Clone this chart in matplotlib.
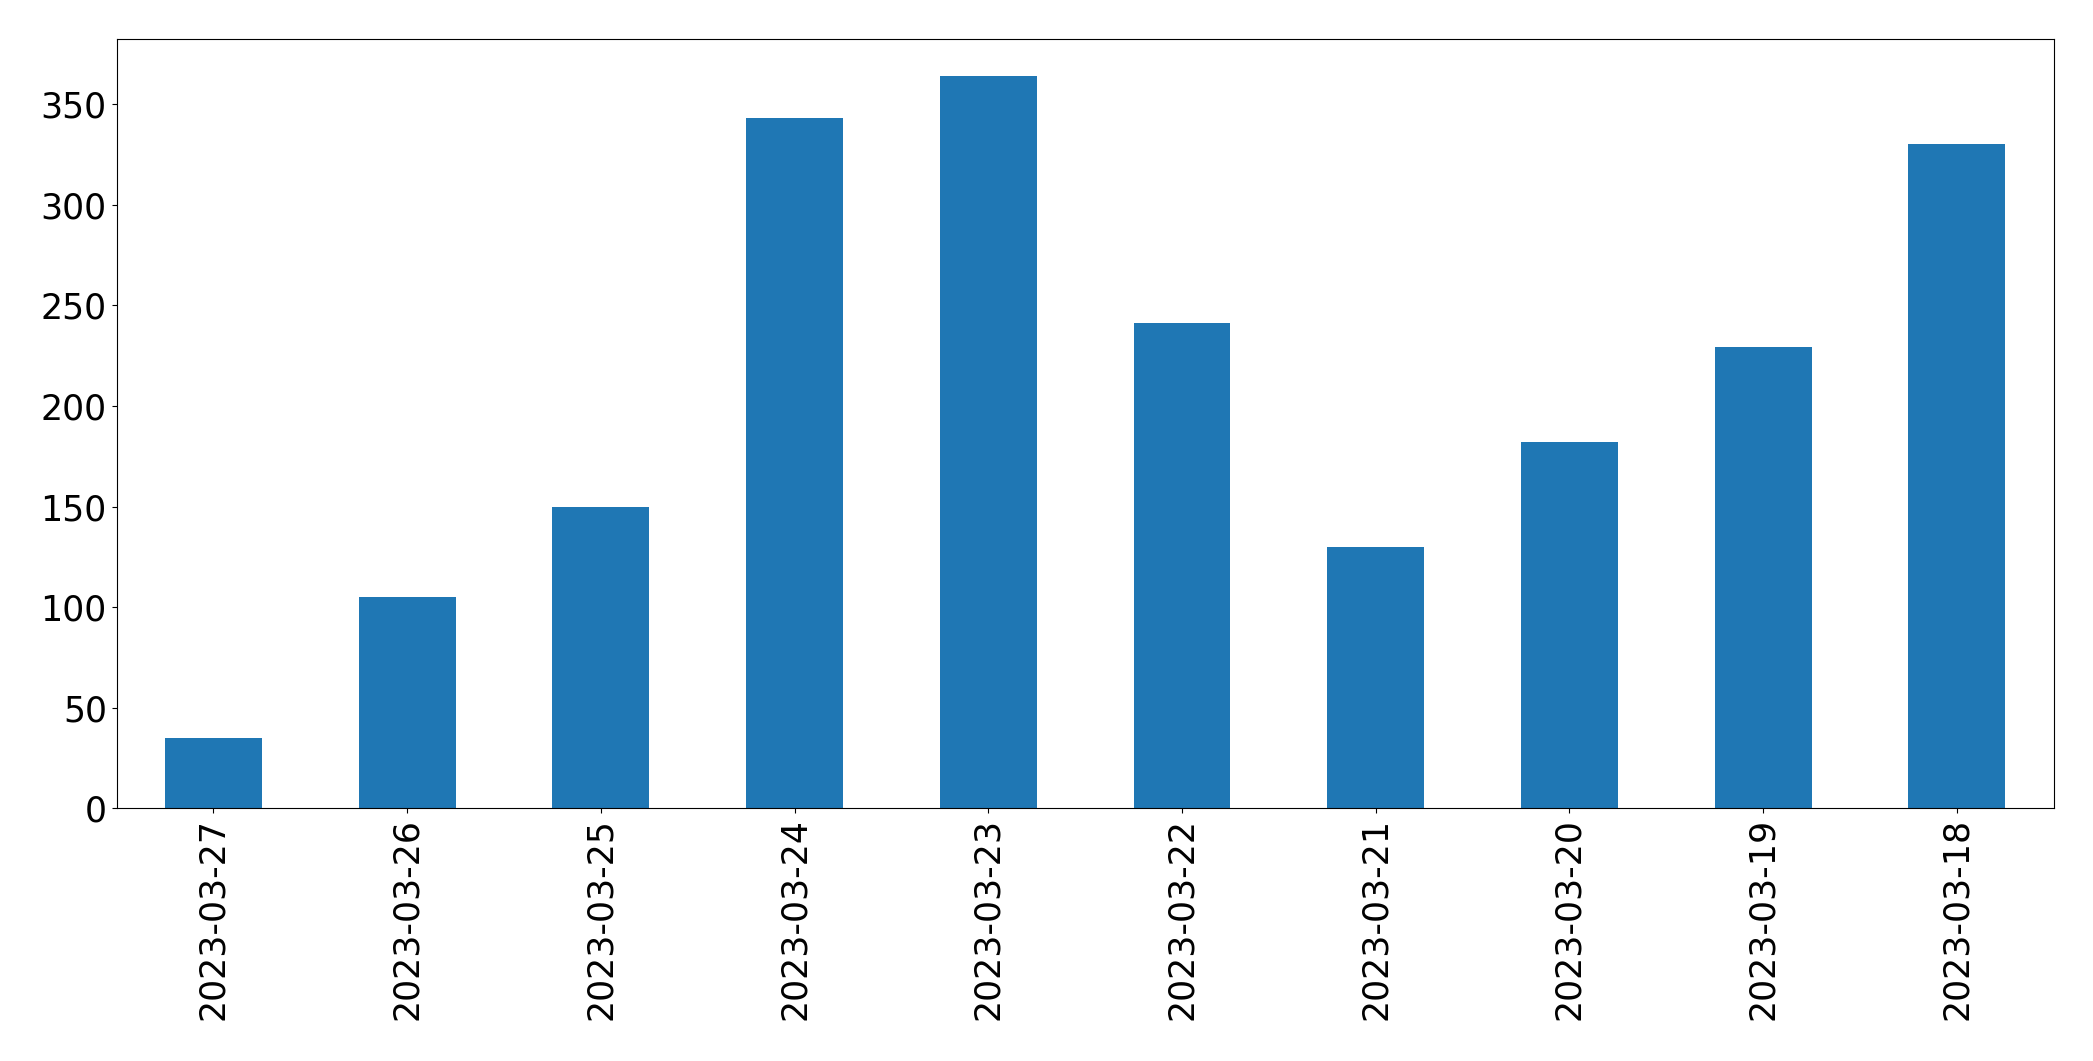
import matplotlib
matplotlib.use('Agg')
import matplotlib.pyplot as plt
import pandas as pd

dates = ['2023-03-27', '2023-03-26', '2023-03-25', '2023-03-24', '2023-03-23',
         '2023-03-22', '2023-03-21', '2023-03-20', '2023-03-19', '2023-03-18']
counts = [35, 105, 150, 343, 364, 241, 130, 182, 229, 330]

plt.rcParams['font.size'] = 25

series = pd.Series(counts, index=dates)

fig = plt.figure(figsize=(20.93, 10.61), dpi=100)
ax = fig.add_axes([0.0557, 0.238, 0.9812 - 0.0557, 0.9632 - 0.238])
series.plot(kind='bar', ax=ax, color='#1f77b4', rot=90)

fig.savefig('out.png', dpi=100)
